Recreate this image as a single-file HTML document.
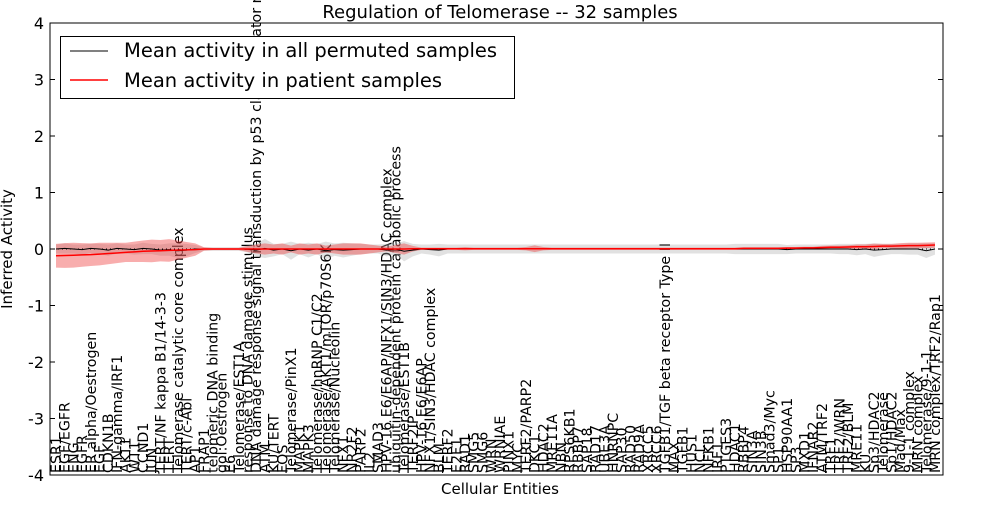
<!DOCTYPE html>
<html><head><meta charset="utf-8"><style>
body{margin:0;background:#fff;width:1000px;height:500px;overflow:hidden}
svg{font-family:"DejaVu Sans","Liberation Sans",sans-serif}
</style></head><body>
<svg id="chart" width="1000" height="500">
<text x="500" y="18" text-anchor="middle" font-size="18">Regulation of Telomerase -- 32 samples</text>
<g id="plot"></g>
<text x="500" y="494" text-anchor="middle" font-size="15">Cellular Entities</text>
<text transform="translate(12,249) rotate(-90)" text-anchor="middle" font-size="15">Inferred Activity</text>
</svg>
<script>
const labels=["ESR1","EGF/EGFR","ENG","EGFR","ER alpha/Oestrogen","EGF","CDKN1B","IFN-gamma/IRF1","AKT1","WT1","CCND1","JUN","TERT/NF kappa B1/14-3-3","TERT","Telomerase catalytic core complex","TERT/c-Abl","AP1","FRAP1","telomeric DNA binding","gol:Oestrogen","E6","Telomerase/EST1A","response to DNA damage stimulus","DNA damage response signal transduction by p53 class mediator resulting in cell cycle arrest","ATM","KU/TERT","FOS","Telomerase/PinX1","MAPK1","MAPK3","Telomerase/hnRNP C1/C2","Telomerase/AKT1/mTOR/p70S6K","Telomerase/Nucleolin","NFX1","NR2F2","PARP2","IL2","SMAD3","HPV-16 E6/E6AP/NFX1/SIN3/HDAC complex","ubiquitin-dependent protein catabolic process","Telomerase/EST1B","TERF2IP","HPV-16 E6/E6AP","NFX1/SIN3/HDAC complex","BLM","TERF2","E2F1","RAD1","SMG5","SMG6","WRN","WRNIAE","PINX1","MYC","TERF2/PARP2","DKC1","HDAC2","MRE11A","NBN","RPS6KB1","RBBP7","SAP18","RAD17","UBE3A","HNRNPC","SAP30","RAD50","RAD9A","XRCC5","XRCC6","TGFB1/TGF beta receptor Type II","MAX","TGFB1","HUS1","NCL","NFKB1","IRF1","PTGES3","HDAC1","RBBP4","SIN3A","SIN3B","Smad3/Myc","SP1","HSP90AA1","SP3","MXD1","IFNAR2","ATM/TRF2","TRF1","TRF2/WRN","TRF2/BLM","MRE11","KU","Sp3/HDAC2","Telomerase","Sp1/HDAC2","Mad/Max","9-1-1 complex","MRN complex","Telomerase/9-1-1","MRN complex/TRF2/Rap1"];
const redMean=[-0.12,-0.115,-0.11,-0.105,-0.1,-0.09,-0.08,-0.07,-0.06,-0.05,-0.04,-0.035,-0.03,-0.025,-0.02,-0.015,-0.01,0,0,0,0,0,0,0,0,0,0,0,0,0,0,0,0,0,0,0,0,0,0,0,0,0.005,0.005,0.005,0.005,0.005,0.005,0.005,0.005,0.005,0.005,0.005,0.005,0.005,0.005,0.005,0.005,0.005,0.005,0.005,0.005,0.005,0.005,0.005,0.005,0.005,0.005,0.005,0.005,0.005,0.005,0.005,0.005,0.005,0.005,0.005,0.005,0.005,0.005,0.01,0.01,0.01,0.01,0.01,0.015,0.015,0.02,0.02,0.025,0.03,0.03,0.035,0.04,0.04,0.045,0.05,0.05,0.055,0.06,0.06,0.065,0.07];
const redSd=[0.21,0.22,0.22,0.21,0.2,0.2,0.19,0.18,0.17,0.18,0.19,0.2,0.19,0.2,0.17,0.14,0.11,0.03,0.02,0.02,0.02,0.02,0.05,0.08,0.1,0.08,0.1,0.06,0.1,0.08,0.1,0.06,0.08,0.1,0.1,0.1,0.08,0.06,0.04,0.07,0.1,0.05,0.02,0.02,0.02,0.02,0.02,0.03,0.02,0.02,0.02,0.02,0.02,0.02,0.03,0.06,0.03,0.02,0.02,0.02,0.02,0.02,0.02,0.02,0.02,0.02,0.02,0.02,0.02,0.02,0.02,0.02,0.02,0.02,0.02,0.02,0.02,0.02,0.02,0.02,0.02,0.02,0.02,0.02,0.02,0.02,0.02,0.02,0.03,0.03,0.03,0.03,0.04,0.04,0.05,0.04,0.04,0.05,0.05,0.05,0.05,0.05];
const blackMean=[0,0.01,0,-0.01,0.01,0,-0.02,0.01,0,-0.01,0.01,0,-0.02,-0.01,-0.03,-0.02,0,0,0,0,0,0,0,-0.02,0.01,-0.02,0,-0.03,0,-0.02,0,-0.03,-0.01,-0.02,-0.01,0,0,0,-0.02,0,-0.04,-0.02,0,-0.01,-0.02,0,0,0,0,0,0,0,0,0,0,0,0,0,0,0,0,0,0,0,0,0,0,0,0,0,0,0,0,0,0,0,0,0,0,0,0,0,0,0,-0.01,0,0,0,0,0,0,0,-0.01,0,-0.02,-0.01,0,0,0,0,-0.03,0];
const greySd=[0.08,0.09,0.08,0.09,0.08,0.09,0.1,0.09,0.08,0.09,0.1,0.09,0.1,0.11,0.13,0.11,0.07,0.03,0.03,0.03,0.03,0.03,0.06,0.11,0.17,0.11,0.09,0.16,0.09,0.13,0.09,0.16,0.11,0.13,0.11,0.09,0.08,0.08,0.11,0.09,0.18,0.11,0.08,0.09,0.11,0.08,0.08,0.08,0.08,0.08,0.08,0.08,0.08,0.08,0.08,0.08,0.08,0.08,0.08,0.08,0.08,0.08,0.08,0.08,0.08,0.08,0.08,0.08,0.08,0.08,0.08,0.08,0.08,0.08,0.08,0.08,0.08,0.08,0.09,0.09,0.09,0.09,0.09,0.09,0.08,0.08,0.08,0.08,0.08,0.08,0.09,0.09,0.1,0.09,0.12,0.1,0.09,0.09,0.1,0.1,0.13,0.1];
const yTicks=[4,3,2,1,0,-1,-2,-3,-4];

const L=50,R=943,T=23,B=475;
const xs=i=>56+i*(935-56)/(labels.length-1);
const ys=v=>T+(4-v)*(B-T)/8;
const NS="http://www.w3.org/2000/svg";
const plot=document.getElementById('plot');
function mk(tag,attrs,parent){const e=document.createElementNS(NS,tag);for(const k in attrs)e.setAttribute(k,attrs[k]);(parent||plot).appendChild(e);return e;}
function band(mean,sd){let up=mean.map((m,i)=>xs(i)+','+ys(m+sd[i]));let dn=mean.map((m,i)=>xs(i)+','+ys(m-sd[i])).reverse();return up.concat(dn).join(' ');}
function line(mean){return mean.map((m,i)=>xs(i)+','+ys(m)).join(' ');}

labels.forEach((t,i)=>{
  const e=mk('text',{transform:`translate(${xs(i)+5},${B-2}) rotate(-90)`,'font-size':'14.2',fill:'#000'});
  e.textContent=t;
  
  
});
const g=mk('polygon',{points:band(blackMean,greySd),fill:'rgba(170,170,170,0.35)',stroke:'none'});


const rb=mk('polygon',{points:band(redMean,redSd),fill:'rgba(238,60,60,0.42)',stroke:'none'});


const zl=mk('line',{x1:L,x2:R,y1:ys(0),y2:ys(0),stroke:'#000','stroke-dasharray':'1,3','stroke-width':1});


const bl=mk('polyline',{points:line(blackMean),fill:'none',stroke:'#000','stroke-width':1});


const rl=mk('polyline',{points:line(redMean),fill:'none',stroke:'#f00','stroke-width':1.5});


const fr=mk('rect',{x:L,y:T,width:R-L,height:B-T,fill:'none',stroke:'#000','stroke-width':1});


yTicks.forEach(v=>{
  const y=ys(v);
  mk('line',{x1:L,x2:L+5,y1:y,y2:y,stroke:'#000'});
  mk('line',{x1:R-5,x2:R,y1:y,y2:y,stroke:'#000'});
  const t=mk('text',{x:L-6,y:y+6,'text-anchor':'end','font-size':'16'});
  t.textContent=v;
  
  
});
const lg=mk('g',{});


mk('rect',{x:60.5,y:36.5,width:454,height:62,fill:'#fff',stroke:'#000'},lg);
mk('line',{x1:70,x2:108,y1:51,y2:51,stroke:'#000','stroke-width':1},lg);
mk('line',{x1:70,x2:108,y1:80,y2:80,stroke:'#f00','stroke-width':1.5},lg);
const t1=mk('text',{x:124,y:57,'font-size':'19.5'},lg);t1.textContent='Mean activity in all permuted samples';


const t2=mk('text',{x:124,y:87,'font-size':'19.5'},lg);t2.textContent='Mean activity in patient samples';


</script>
</body></html>
